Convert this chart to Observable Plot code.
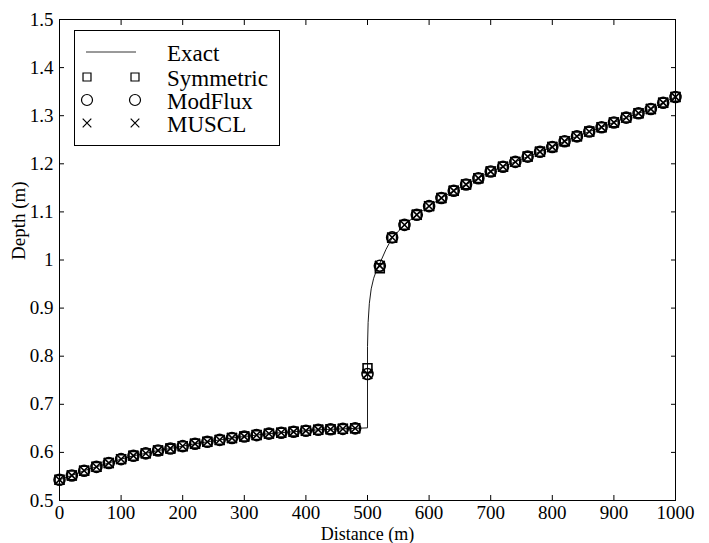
<!DOCTYPE html>
<html><head><meta charset="utf-8">
<script src="https://cdn.jsdelivr.net/npm/d3@7"></script>
<script src="https://cdn.jsdelivr.net/npm/@observablehq/plot@0.6"></script>
<style>body{margin:0;background:#fff}</style>
</head><body><div id="chart"></div>
<script>
const distance = [0,20,40,60,80,100,120,140,160,180,200,220,240,260,280,300,320,340,360,380,400,420,440,460,480,
  500,520,540,560,580,600,620,640,660,680,700,720,740,760,780,800,820,840,860,880,900,920,940,960,980,1000];
const modflux = [0.543,0.552,0.562,0.570,0.578,0.586,0.593,0.598,0.604,0.608,0.613,0.618,0.622,0.626,0.630,0.633,0.636,0.639,0.641,0.643,0.645,0.647,0.648,0.649,0.650,
  0.763,0.988,1.047,1.073,1.094,1.112,1.129,1.144,1.157,1.170,1.184,1.194,1.204,1.215,1.225,1.235,1.247,1.257,1.267,1.276,1.286,1.296,1.305,1.314,1.327,1.339];
const symmetric = [0.543,0.552,0.562,0.570,0.578,0.586,0.593,0.598,0.604,0.608,0.613,0.618,0.622,0.626,0.630,0.633,0.636,0.639,0.641,0.643,0.645,0.647,0.648,0.649,0.650,
  0.775,0.983,1.046,1.073,1.094,1.112,1.129,1.144,1.157,1.170,1.184,1.194,1.204,1.215,1.225,1.235,1.247,1.257,1.267,1.276,1.286,1.296,1.305,1.314,1.327,1.339];
const muscl = [0.543,0.552,0.562,0.570,0.578,0.586,0.593,0.598,0.604,0.608,0.613,0.618,0.622,0.626,0.630,0.633,0.636,0.639,0.641,0.643,0.645,0.647,0.648,0.649,0.650,
  0.763,0.988,1.047,1.073,1.094,1.112,1.129,1.144,1.157,1.170,1.184,1.194,1.204,1.215,1.225,1.235,1.247,1.257,1.267,1.276,1.286,1.296,1.305,1.314,1.327,1.339];
const exactX = [0,20,40,60,80,100,120,140,160,180,200,220,240,260,280,300,320,340,360,380,400,420,440,460,480,500,
  500,501,503,506,510,515,520,530,540,560,580,600,620,640,660,680,700,720,740,760,780,800,820,840,860,880,900,920,940,960,980,1000];
const exactY = [0.543,0.552,0.562,0.570,0.578,0.586,0.593,0.598,0.604,0.608,0.613,0.618,0.622,0.626,0.630,0.633,0.636,0.639,0.641,0.643,0.645,0.647,0.648,0.649,0.650,0.651,
  0.82,0.87,0.91,0.94,0.962,0.98,0.993,1.022,1.046,1.073,1.094,1.112,1.129,1.144,1.157,1.170,1.184,1.194,1.204,1.215,1.225,1.235,1.247,1.257,1.267,1.276,1.286,1.296,1.305,1.314,1.327,1.339];
const xTicks = [0,100,200,300,400,500,600,700,800,900,1000];
const yTicks = [0.5,0.6,0.7,0.8,0.9,1,1.1,1.2,1.3,1.4,1.5];
const legendLabels = ["Exact","Symmetric","ModFlux","MUSCL"];
const xLabel = "Distance (m)";
const yLabel = "Depth (m)";

const font = "'Liberation Serif', 'Times New Roman', serif";
const rows = ys => distance.map((x, i) => ({x, y: ys[i]}));
const exact = exactX.map((x, i) => ({x, y: exactY[i]}));
const dotStyle = {x: "x", y: "y", stroke: "#000", fill: "none", strokeWidth: 1.6};

const svg = Plot.plot({
  width: 709, height: 543,
  marginLeft: 59, marginRight: 34, marginTop: 19, marginBottom: 43,
  style: {fontFamily: font, fontSize: "19px", background: "#fff", color: "#000"},
  x: {domain: [0, 1000]},
  y: {domain: [0.5, 1.5]},
  marks: [
    Plot.line(exact, {x: "x", y: "y", stroke: "#000", strokeWidth: 0.9}),
    Plot.dot(rows(symmetric), {...dotStyle, symbol: "square", r: 5}),
    Plot.dot(rows(modflux), {...dotStyle, symbol: "circle", r: 5.5}),
    Plot.dot(rows(muscl), {...dotStyle, symbol: "times", r: 4.5}),
    Plot.frame({stroke: "#000", strokeWidth: 1}),
    Plot.axisX(xTicks, {anchor: "bottom", tickSize: 5, dy: -5, text: null, label: null}),
    Plot.axisX(xTicks, {anchor: "top", tickSize: 5, dy: 5, text: null, label: null}),
    Plot.axisY(yTicks, {anchor: "left", tickSize: 5, dx: 5, text: null, label: null}),
    Plot.axisY(yTicks, {anchor: "right", tickSize: 5, dx: -5, text: null, label: null}),
    Plot.axisX(xTicks, {anchor: "bottom", tickSize: 0, tickPadding: 5, tickFormat: d => `${d}`, label: null, fontSize: 19}),
    Plot.axisY(yTicks, {anchor: "left", tickSize: 0, tickPadding: 6, tickFormat: d => `${d}`, label: null, fontSize: 19}),
    Plot.text([xLabel], {frameAnchor: "bottom", lineAnchor: "bottom", dy: 39, fontSize: 18}),
    Plot.text([yLabel], {frameAnchor: "left", rotate: -90, dx: -41, fontSize: 19})
  ]
});

// legend box inside the plot
const g = d3.select(svg).append("g")
  .attr("font-family", font).style("font-size", "23px").attr("text-anchor", "start");
g.append("rect").attr("x", 74.5).attr("y", 30.5).attr("width", 205).attr("height", 115)
  .attr("fill", "#fff").attr("stroke", "#000").attr("stroke-width", 1);
g.append("line").attr("x1", 86).attr("x2", 136).attr("y1", 52).attr("y2", 52)
  .attr("stroke", "#000").attr("stroke-width", 0.8);
const symTypes = [d3.symbolSquare, d3.symbolCircle, d3.symbolTimes];
const symR = [4.5, 5.5, 4];
const rowY = [52, 77, 100, 123];
symTypes.forEach((t, i) => {
  [87, 135].forEach(cx => {
    g.append("path").attr("d", d3.symbol(t, Math.PI * symR[i] * symR[i])())
      .attr("transform", `translate(${cx},${rowY[i + 1]})`)
      .attr("fill", "none").attr("stroke", "#000").attr("stroke-width", 1.2);
  });
});
legendLabels.forEach((lab, i) => {
  g.append("text").attr("x", 167).attr("y", rowY[i] + 9).style("text-anchor", "start").text(lab);
});

document.getElementById("chart").appendChild(svg);
</script>
</body></html>
